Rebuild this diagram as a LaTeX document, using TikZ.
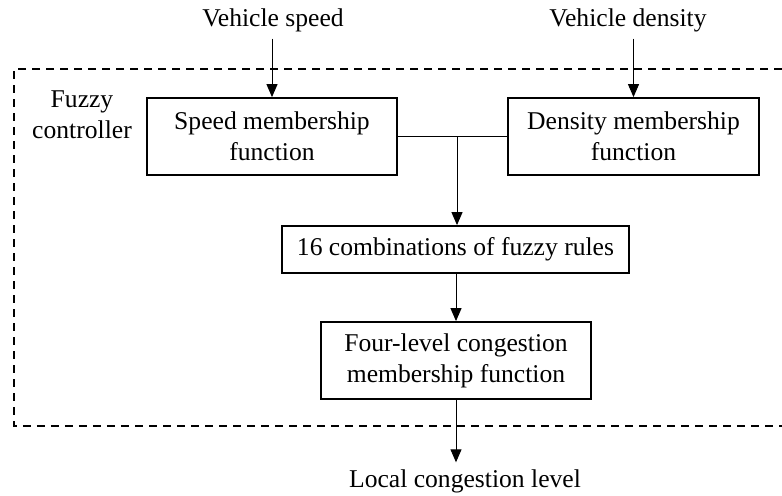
\documentclass[tikz,border=0pt]{standalone}
\usepackage{fontspec}
\setmainfont{Liberation Serif}
\usetikzlibrary{arrows.meta}
\tikzset{
  fcbox/.style={draw, line width=0.9pt, align=center, inner sep=2pt,
    minimum height=38.5pt},
  fcarrow/.style={line width=0.5pt, -{Triangle[width=5.5pt,length=6.5pt]}},
  fcline/.style={line width=0.5pt}
}
\begin{document}
\begin{tikzpicture}[x=0.5pt, y=-0.5pt, font=\fontsize{12.8}{15.5}\selectfont]
  \useasboundingbox (0,0) rectangle (782,495);
  % dashed frame of the controller
  \draw[line width=1pt, dash pattern=on 4pt off 3pt]
    (782,69) -- (14,69) -- (14,426) -- (782,426);
  \draw
    (273,20) node (vspeed) {Vehicle speed}
    (628,20) node (vdens) {Vehicle density}
    (82,115) node (ctrl) [align=center] {Fuzzy\\controller}
    (272,136.5) node (speed) [fcbox, minimum width=125pt] {Speed membership\\function}
    (633.5,136.5) node (dens) [fcbox, minimum width=125.5pt] {Density membership\\function}
    (455.5,249.5) node (rules) [fcbox, minimum width=173.5pt, minimum height=23.5pt] {16 combinations of fuzzy rules}
    (456,360.5) node (cong) [fcbox, minimum width=135pt] {Four-level congestion\\membership function}
    (465,481) node (local) {Local congestion level};
  \coordinate (junc) at (457,136.5);
  \begin{scope}[fcarrow]
    \draw (vspeed.south -| speed.north) to (speed.north);
    \draw (dens.north |- vdens.south) to (dens.north);
    \draw (junc) to (rules.north -| junc);
    \draw (rules.south -| cong.north) to (cong.north);
    \draw (cong.south) to (cong.south |- local.north);
  \end{scope}
  \draw[fcline] (speed.east) to (dens.west);
\end{tikzpicture}
\end{document}
